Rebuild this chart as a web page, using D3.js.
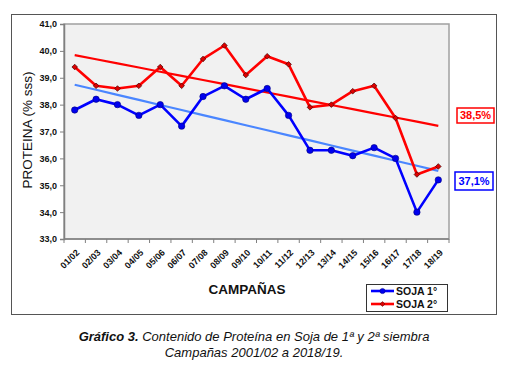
<!DOCTYPE html>
<html>
<head>
<meta charset="utf-8">
<script src="https://cdn.jsdelivr.net/npm/d3@7"></script>
<style>
  body { margin: 0; background: #fff; }
  text { font-family: Arial, "Liberation Sans", sans-serif; }
</style>
</head>
<body>
<script>
// data
var campanas = ["01/02","02/03","03/04","04/05","05/06","06/07","07/08","08/09","09/10",
                "10/11","11/12","12/13","13/14","14/15","15/16","16/17","17/18","18/19"];
var soja1 = [37.8,38.2,38.0,37.6,38.0,37.2,38.3,38.7,38.2,38.6,37.6,36.3,36.3,36.1,36.4,36.0,34.0,35.2];
var soja2 = [39.4,38.7,38.6,38.7,39.4,38.7,39.7,40.2,39.1,39.8,39.5,37.9,38.0,38.5,38.7,37.5,35.4,35.7];
var yTicks = [33,34,35,36,37,38,39,40,41];
var promedios = ["38,5%", "37,1%"];

var W = 508, H = 372;
var plot = {left: 64, top: 24, right: 449, bottom: 239};

var svg = d3.select("body").append("svg")
    .attr("width", W)
    .attr("height", H);

// outer frame
svg.append("rect")
    .attr("x", 11.5).attr("y", 14.5)
    .attr("width", 485).attr("height", 300)
    .attr("fill", "#fff").attr("stroke", "#555").attr("stroke-width", 1);

var x = d3.scaleBand().domain(campanas).range([plot.left, plot.right]);
var y = d3.scaleLinear().domain([33, 41]).range([plot.bottom, plot.top]);
var cx = function(d, i) { return x(campanas[i]) + x.bandwidth() / 2; };

// plot background
svg.append("rect")
    .attr("x", plot.left).attr("y", plot.top)
    .attr("width", plot.right - plot.left).attr("height", plot.bottom - plot.top)
    .attr("fill", "#f1f1f1").attr("stroke", "#a0a0a0").attr("stroke-width", 1.5);

// y axis
var yAxis = svg.append("g")
    .attr("transform", "translate(" + plot.left + ",0)")
    .call(d3.axisLeft(y).tickValues(yTicks).tickSize(4).tickPadding(3)
      .tickFormat(function(d) { return d3.format(".1f")(d).replace(".", ","); }));
yAxis.select(".domain").attr("stroke", "#808080").attr("stroke-width", 1.5);
yAxis.selectAll(".tick line").attr("stroke", "#808080");
yAxis.selectAll("text").attr("font-size", 9).attr("font-weight", "bold").attr("fill", "#111")
    .style("font-family", "Arial, 'Liberation Sans', sans-serif");

// x axis: ticks on category boundaries
var xAxis = svg.append("g")
    .attr("transform", "translate(0," + plot.bottom + ")");
xAxis.append("line")
    .attr("x1", plot.left).attr("x2", plot.right)
    .attr("stroke", "#808080").attr("stroke-width", 1.5);
xAxis.selectAll(".xt").data(campanas.concat(["end"])).enter().append("line")
    .attr("x1", function(d, i) { return plot.left + i * x.bandwidth(); })
    .attr("x2", function(d, i) { return plot.left + i * x.bandwidth(); })
    .attr("y1", 0).attr("y2", 4)
    .attr("stroke", "#808080");
xAxis.selectAll(".xl").data(campanas).enter().append("text")
    .attr("transform", function(d, i) {
      return "translate(" + (cx(d, i) + 3) + ",12) rotate(-45)";
    })
    .attr("text-anchor", "end")
    .attr("dy", "0.35em")
    .attr("font-size", 9).attr("font-weight", "bold").attr("fill", "#111")
    .text(function(d) { return d; });

// trend lines (least squares on index)
function trend(vals) {
  var n = vals.length, xs = d3.range(n);
  var mx = d3.mean(xs), my = d3.mean(vals);
  var b = d3.sum(xs, function(i) { return (i - mx) * (vals[i] - my); }) /
          d3.sum(xs, function(i) { return (i - mx) * (i - mx); });
  return vals.map(function(v, i) { return my + b * (i - mx); });
}

var line = d3.line().x(cx).y(function(d) { return y(d); });

svg.append("path").datum(trend(soja1))
    .attr("d", line).attr("fill", "none")
    .attr("stroke", "#4a86ff").attr("stroke-width", 2.2);
svg.append("path").datum(trend(soja2))
    .attr("d", line).attr("fill", "none")
    .attr("stroke", "#ff0000").attr("stroke-width", 2.2);

// series lines
svg.append("path").datum(soja1)
    .attr("d", line).attr("fill", "none")
    .attr("stroke", "#0000ff").attr("stroke-width", 2.6).attr("stroke-linejoin", "round");
svg.append("path").datum(soja2)
    .attr("d", line).attr("fill", "none")
    .attr("stroke", "#ff0000").attr("stroke-width", 2.6).attr("stroke-linejoin", "round");

// markers
svg.selectAll(".m1").data(soja1).enter().append("circle")
    .attr("cx", cx).attr("cy", function(d) { return y(d); })
    .attr("r", 3.2).attr("fill", "#0000ee").attr("stroke", "#000080").attr("stroke-width", 0.6);

var diamond = d3.symbol().type(d3.symbolDiamond2).size(20);
svg.selectAll(".m2").data(soja2).enter().append("path")
    .attr("d", diamond)
    .attr("transform", function(d, i) { return "translate(" + cx(d, i) + "," + y(d) + ")"; })
    .attr("fill", "#dd0000").attr("stroke", "#400000").attr("stroke-width", 0.7);

// average labels
var avgBoxes = [
  {text: promedios[0], color: "#ff0000", x: 457, y: 108, w: 37, h: 15},
  {text: promedios[1], color: "#0000ff", x: 455, y: 172, w: 38, h: 18}
];
avgBoxes.forEach(function(b) {
  svg.append("rect")
      .attr("x", b.x).attr("y", b.y).attr("width", b.w).attr("height", b.h)
      .attr("fill", "#fff").attr("stroke", b.color).attr("stroke-width", 1.5);
  svg.append("text")
      .attr("x", b.x + b.w / 2).attr("y", b.y + b.h / 2)
      .attr("dy", "0.36em").attr("text-anchor", "middle")
      .attr("font-size", 11).attr("font-weight", "bold").attr("fill", b.color)
      .text(b.text);
});

// axis titles
svg.append("text")
    .attr("transform", "translate(32,130) rotate(-90)")
    .attr("text-anchor", "middle")
    .attr("font-size", 13.5).attr("fill", "#111")
    .text("PROTEINA (% sss)");

svg.append("text")
    .attr("x", 247).attr("y", 294)
    .attr("text-anchor", "middle")
    .attr("font-size", 13.5).attr("font-weight", "bold").attr("fill", "#111")
    .text("CAMPAÑAS");

// legend
var legend = svg.append("g").attr("transform", "translate(366,284)");
legend.append("rect")
    .attr("x", 0.5).attr("y", 0.5).attr("width", 81).attr("height", 27)
    .attr("fill", "#fff").attr("stroke", "#333").attr("stroke-width", 1);
[{name: "SOJA 1°", color: "#0000ff", dy: 7}, {name: "SOJA 2°", color: "#ff0000", dy: 20}]
  .forEach(function(s, i) {
    legend.append("line")
        .attr("x1", 5).attr("x2", 28).attr("y1", s.dy).attr("y2", s.dy)
        .attr("stroke", s.color).attr("stroke-width", 2.6);
    if (i === 0) {
      legend.append("circle").attr("cx", 16.5).attr("cy", s.dy).attr("r", 2.6)
          .attr("fill", "#0000ee").attr("stroke", "#000080").attr("stroke-width", 0.5);
    } else {
      legend.append("path").attr("d", d3.symbol().type(d3.symbolDiamond2).size(15))
          .attr("transform", "translate(16.5," + s.dy + ")")
          .attr("fill", "#dd0000").attr("stroke", "#400000").attr("stroke-width", 0.5);
    }
    legend.append("text")
        .attr("x", 30).attr("y", s.dy).attr("dy", "0.36em")
        .attr("font-size", 10.5).attr("font-weight", "bold").attr("fill", "#111")
        .text(s.name);
  });

// caption
var cap = svg.append("text")
    .attr("x", 254).attr("y", 341)
    .attr("text-anchor", "middle")
    .attr("font-size", 13).attr("font-style", "italic").attr("fill", "#111");
cap.append("tspan").attr("font-weight", "bold").text("Gráfico 3.");
cap.append("tspan").text(" Contenido de Proteína en Soja de 1ª y 2ª siembra");
svg.append("text")
    .attr("x", 254).attr("y", 357)
    .attr("text-anchor", "middle")
    .attr("font-size", 13).attr("font-style", "italic").attr("fill", "#111")
    .text("Campañas 2001/02 a 2018/19.");
</script>
</body>
</html>
